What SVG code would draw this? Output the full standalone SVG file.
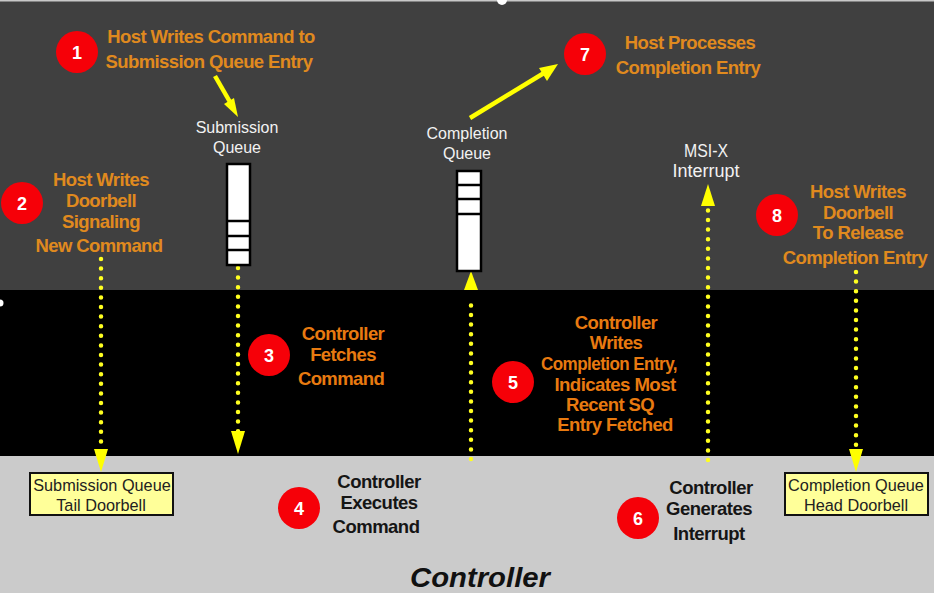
<svg xmlns="http://www.w3.org/2000/svg" width="934" height="593" viewBox="0 0 934 593">
<defs>
<style>
text{font-family:"Liberation Sans",Arial,sans-serif;text-anchor:middle}
.o{fill:#e08a1e;font-size:18.5px;font-weight:bold;letter-spacing:-.6px}
.d{fill:#e87a10;font-size:18.5px;font-weight:bold;letter-spacing:-.6px}
.k{fill:#151515;font-size:18.5px;font-weight:bold;letter-spacing:-.5px}
.w{fill:#f2f2f2;font-size:16px}
.m{fill:#f2f2f2;font-size:18px}
.y{fill:#222;font-size:16.3px}
.c{fill:#f60008}
.n{fill:#fff;font-size:18px;font-weight:bold}
.dot{fill:none;stroke:#ffff20;stroke-width:4.5;stroke-linecap:round;stroke-dasharray:0 9.6}
.sol{fill:none;stroke:#ffff00;stroke-width:4.5}
.head{fill:#ffff00}
.q{fill:#fff;stroke:#000;stroke-width:2.5}
.ql{stroke:#000;stroke-width:2.5}
.b{fill:#ffff99;stroke:#111;stroke-width:2}
</style>
</defs>
<rect x="0" y="0" width="934" height="290" fill="#404040"/>
<rect x="0" y="0" width="934" height="1.5" fill="#c8c8c8"/>
<rect x="0" y="290" width="934" height="166" fill="#000"/>
<rect x="0" y="456" width="934" height="137" fill="#cbcbcb"/>
<circle cx="502" cy="0" r="5" fill="#fff"/>
<circle cx="0" cy="303" r="3.5" fill="#fff"/>
<text x="480" y="587" font-size="28" font-weight="bold" font-style="italic" fill="#111" textLength="140" lengthAdjust="spacingAndGlyphs">Controller</text>

<g id="connectors">
<line class="dot" x1="101" y1="259" x2="101" y2="450"/>
<path class="head" d="M94 449H108L101 472Z"/>
<line class="dot" x1="238" y1="268" x2="238" y2="432"/>
<path class="head" d="M231 431H245L238 454Z"/>
<line class="dot" x1="471" y1="459" x2="471" y2="297"/>
<path class="head" d="M464 290H478L471 271Z"/>
<line class="dot" x1="708" y1="460" x2="708" y2="210"/>
<path class="head" d="M701 206H715L708 184Z"/>
<line class="dot" x1="856" y1="272" x2="856" y2="450"/>
<path class="head" d="M849 449H863L856 472Z"/>
<line class="sol" x1="215" y1="76" x2="230" y2="102"/>
<path class="head" d="M224 104L234 98L238 117Z"/>
<line class="sol" x1="470" y1="118" x2="544" y2="73"/>
<path class="head" d="M539 68L558 64L547 81Z"/>
</g>

<g id="submission-queue">
<rect class="q" x="227" y="164" width="23" height="101"/>
<line class="ql" x1="227" y1="221" x2="250" y2="221"/>
<line class="ql" x1="227" y1="236" x2="250" y2="236"/>
<line class="ql" x1="227" y1="250" x2="250" y2="250"/>
<text class="w" x="237" y="133">Submission</text>
<text class="w" x="237" y="153">Queue</text>
</g>
<g id="completion-queue">
<rect class="q" x="457" y="171" width="24" height="100"/>
<line class="ql" x1="457" y1="185" x2="481" y2="185"/>
<line class="ql" x1="457" y1="199" x2="481" y2="199"/>
<line class="ql" x1="457" y1="214" x2="481" y2="214"/>
<text class="w" x="467" y="139">Completion</text>
<text class="w" x="467" y="159">Queue</text>
</g>
<g id="msi-x"><text class="m" x="706" y="157" textLength="44" lengthAdjust="spacingAndGlyphs">MSI-X</text><text class="m" x="706" y="177" textLength="67" lengthAdjust="spacingAndGlyphs">Interrupt</text></g>

<g id="step-1"><circle class="c" cx="77" cy="52" r="21"/><text class="n" x="77" y="59">1</text>
<text class="o" x="211" y="43">Host Writes Command to</text><text class="o" x="209" y="68">Submission Queue Entry</text></g>
<g id="step-2"><circle class="c" cx="22" cy="203" r="21"/><text class="n" x="22" y="210">2</text>
<text class="o" x="101" y="186">Host Writes</text><text class="o" x="101" y="207">Doorbell</text><text class="o" x="101" y="228">Signaling</text><text class="o" x="99" y="252">New Command</text></g>
<g id="step-3"><circle class="c" cx="269" cy="355" r="21"/><text class="n" x="269" y="362">3</text>
<text class="d" x="343" y="340">Controller</text><text class="d" x="343" y="361">Fetches</text><text class="d" x="341" y="385">Command</text></g>
<g id="step-4"><circle class="c" cx="299" cy="508" r="21"/><text class="n" x="299" y="515">4</text>
<text class="k" x="379" y="488">Controller</text><text class="k" x="379" y="509">Executes</text><text class="k" x="376" y="533">Command</text></g>
<g id="step-5"><circle class="c" cx="513" cy="382" r="21"/><text class="n" x="513" y="389">5</text>
<text class="d" x="616" y="329">Controller</text><text class="d" x="616" y="349">Writes</text><text class="d" x="609" y="370" textLength="136" lengthAdjust="spacingAndGlyphs">Completion Entry,</text><text class="d" x="615" y="391" textLength="121" lengthAdjust="spacingAndGlyphs">Indicates Most</text><text class="d" x="610" y="411">Recent SQ</text><text class="d" x="615" y="431">Entry Fetched</text></g>
<g id="step-6"><circle class="c" cx="638" cy="518" r="21"/><text class="n" x="638" y="525">6</text>
<text class="k" x="711" y="494">Controller</text><text class="k" x="709" y="515">Generates</text><text class="k" x="709" y="540">Interrupt</text></g>
<g id="step-7"><circle class="c" cx="585" cy="54" r="21"/><text class="n" x="585" y="61">7</text>
<text class="o" x="690" y="49">Host Processes</text><text class="o" x="688" y="74">Completion Entry</text></g>
<g id="step-8"><circle class="c" cx="777" cy="215" r="21"/><text class="n" x="777" y="222">8</text>
<text class="o" x="858" y="198">Host Writes</text><text class="o" x="858" y="219">Doorbell</text><text class="o" x="858" y="239">To Release</text><text class="o" x="855" y="264">Completion Entry</text></g>

<g id="sq-tail-doorbell"><rect class="b" x="30" y="473" width="143" height="42"/>
<text class="y" x="102" y="491">Submission Queue</text><text class="y" x="101" y="511">Tail Doorbell</text></g>
<g id="cq-head-doorbell"><rect class="b" x="785" y="473" width="143" height="42"/>
<text class="y" x="856" y="491">Completion Queue</text><text class="y" x="856" y="511">Head Doorbell</text></g>
</svg>
